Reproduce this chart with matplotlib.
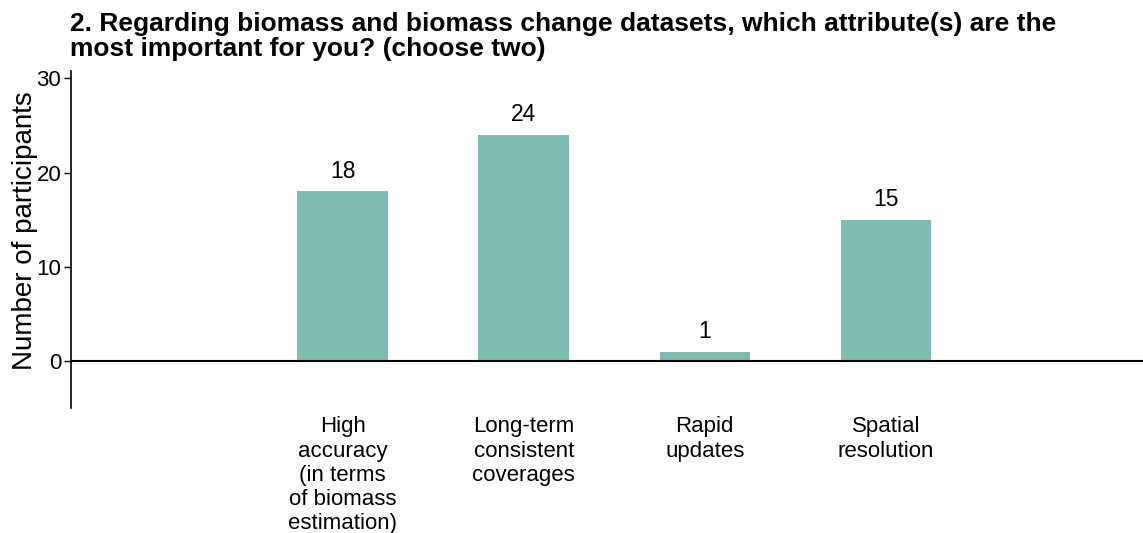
import matplotlib.pyplot as plt
import numpy as np

plt.rcParams['font.family'] = ['Liberation Sans', 'DejaVu Sans']

categories = ['High\naccuracy\n(in terms\nof biomass\nestimation)',
              'Long-term\nconsistent\ncoverages',
              'Rapid\nupdates',
              'Spatial\nresolution']
counts = [18, 24, 1, 15]
yticks = [0, 10, 20, 30]

bar_color = '#7fbcb1'

fig = plt.figure(figsize=(11.43, 5.33), dpi=100)
ax = fig.add_axes([0.0621, 0.2345, 0.9379, 0.6325])

x = np.arange(len(categories))
ax.bar(x, counts, width=0.5, color=bar_color, zorder=2)
for xi, c in zip(x, counts):
    ax.text(xi, c + 0.9, str(c), ha='center', va='bottom', fontsize=16.5)

ax.axhline(0, color='black', lw=1.5, zorder=3)

ax.set_xlim(-1.5, 4.42)
ax.set_ylim(-5, 30.8)
ax.set_yticks(yticks)
ax.set_xticks(x)
ax.set_xticklabels(categories, fontsize=16, linespacing=1.2, va='top')
ax.tick_params(axis='x', length=0, pad=6)
ax.tick_params(axis='y', length=5, width=1, labelsize=16, pad=2)

for side in ['top', 'right', 'bottom']:
    ax.spines[side].set_visible(False)
ax.spines['left'].set_linewidth(1.2)

ax.set_ylabel('Number of participants', fontsize=20)
ax.yaxis.set_label_coords(-0.031, 0.525)

fig.text(0.0612, 0.978,
         '2. Regarding biomass and biomass change datasets, which attribute(s) are the\n'
         'most important for you? (choose two)',
         ha='left', va='top', fontsize=19, fontweight='bold', linespacing=1.05)

fig.savefig('out.png', dpi=100)
